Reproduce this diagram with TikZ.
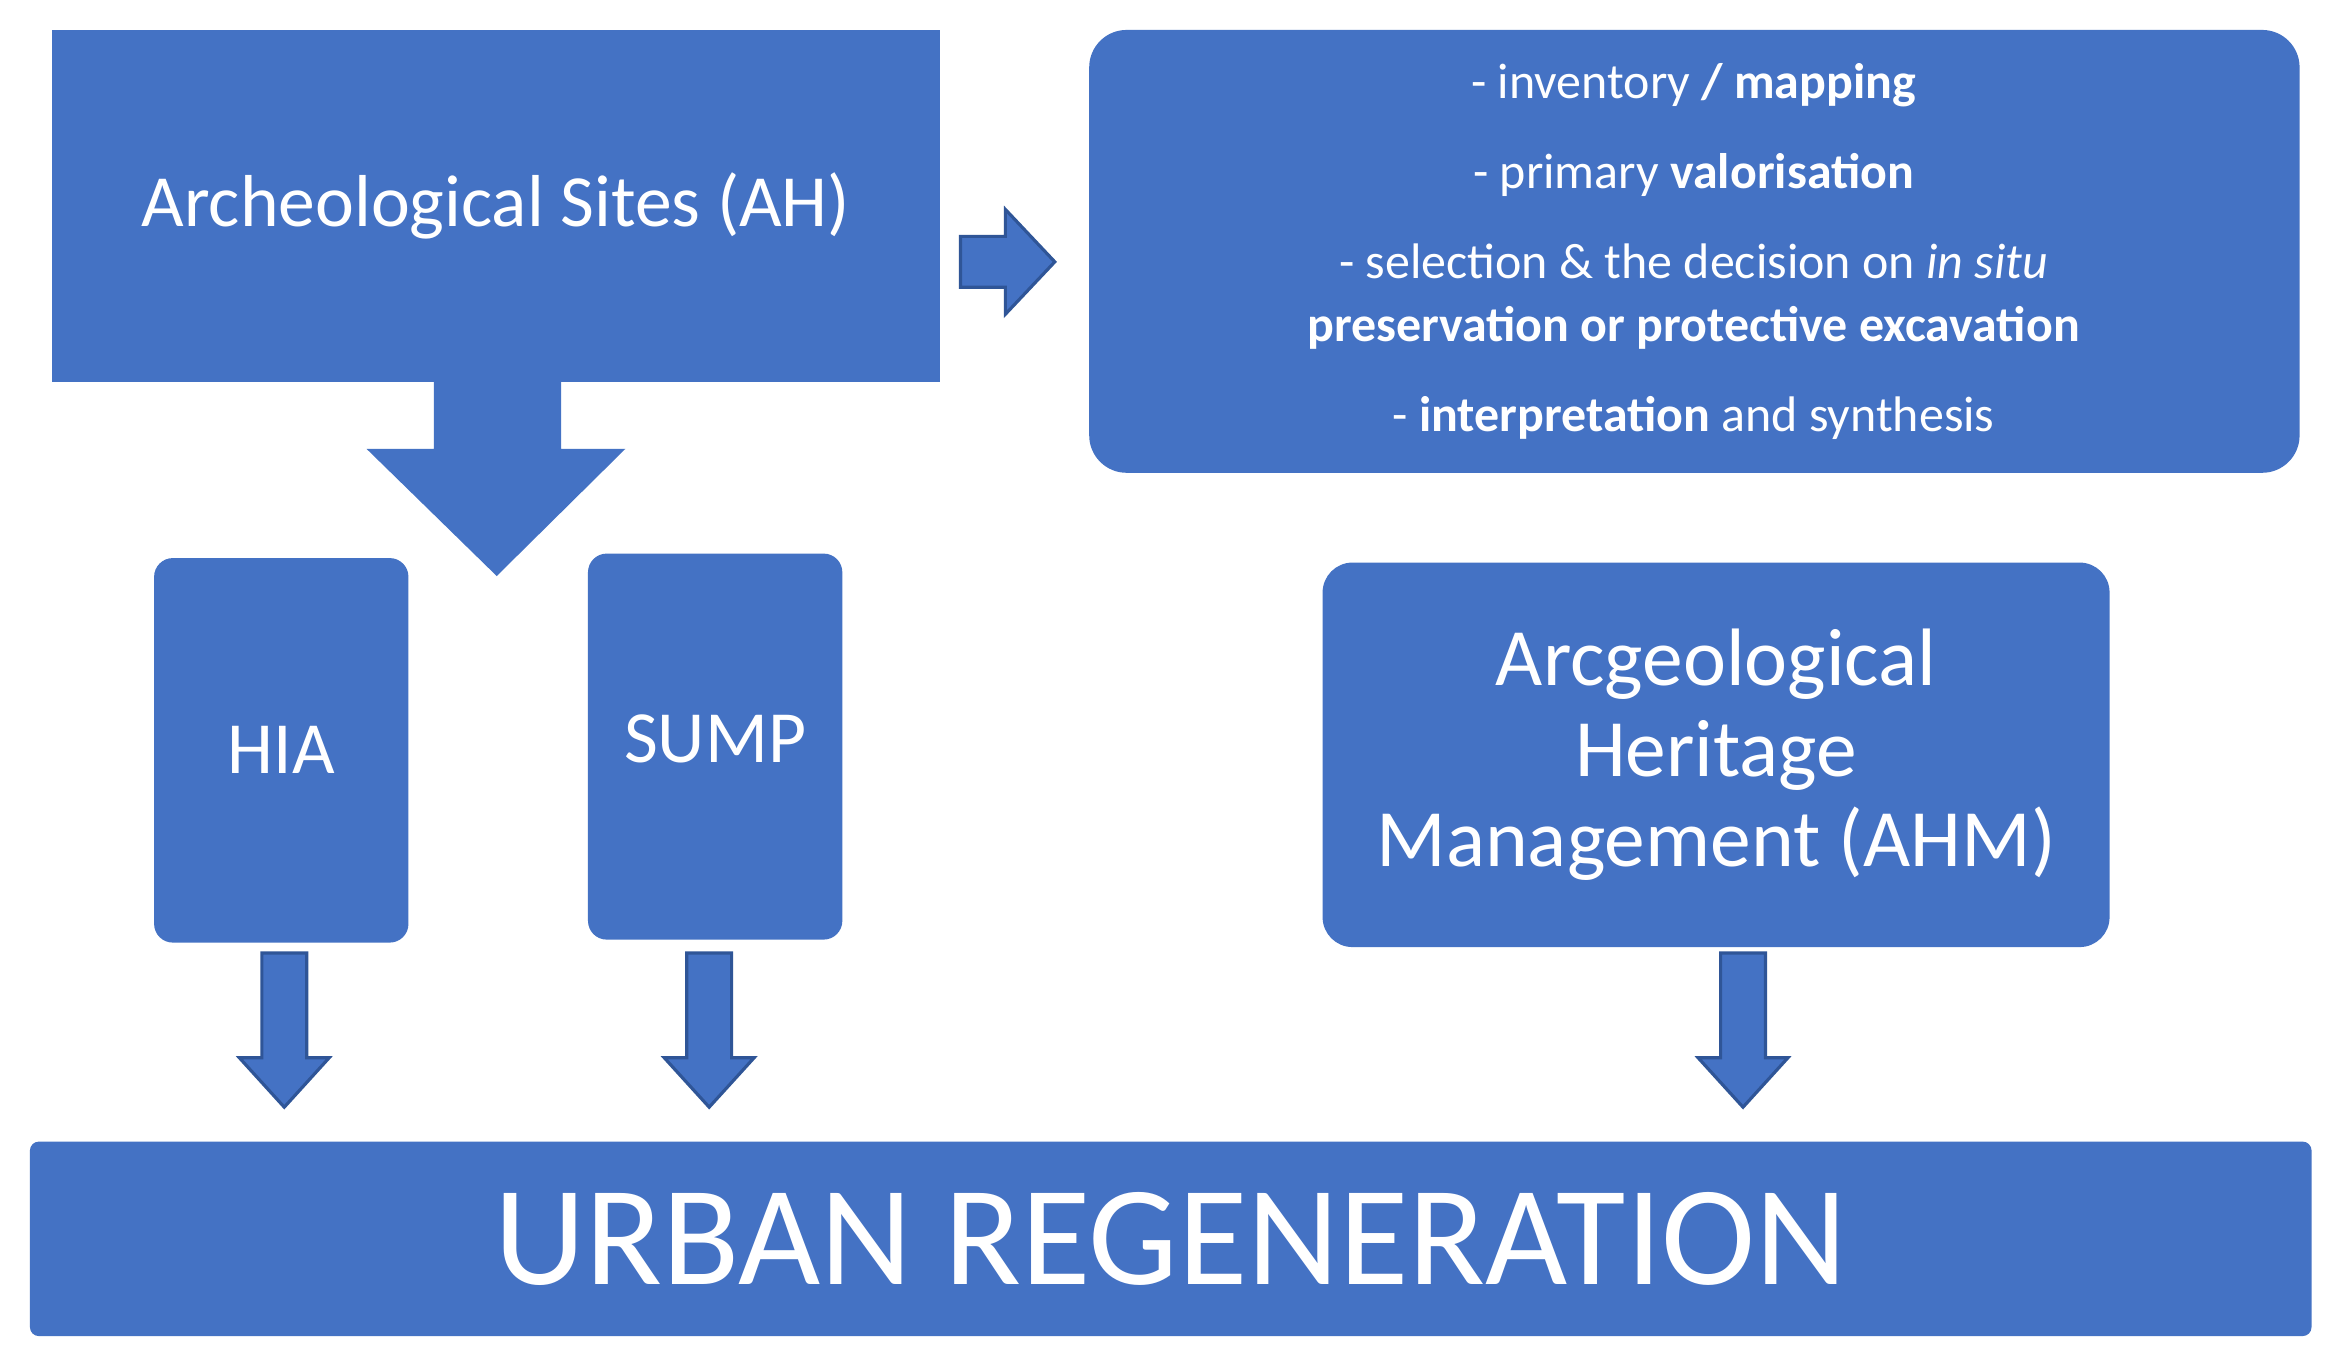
\documentclass[tikz,border=0pt]{standalone}
\usepackage{fontspec}
\setmainfont{Carlito}
\definecolor{bx}{HTML}{4472C4}
\definecolor{ol}{HTML}{2F5597}
\begin{document}
\begin{tikzpicture}[x=0.02cm,y=-0.02cm,
  box/.style={fill=bx,text=white,inner sep=0pt,align=center},
  arr/.style={fill=bx,draw=ol,line width=1.2pt,line join=miter}]
\useasboundingbox (0,0) rectangle (1560,904);
\fill[white] (0,0) rectangle (1560,904);
\node[box,minimum width=593*0.02cm,minimum height=235*0.02cm,font=\fontsize{28}{32}\selectfont] (ah) at (331.5,137.5) {Archeological Sites (AH)};
\node[box,rounded corners=0.5cm,minimum width=809*0.02cm,minimum height=296*0.02cm] (rb) at (1132.5,168) {};
\node[text=white,align=center,font=\fontsize{19}{24}\selectfont] (rt) at (1132,168) {- inventory \textbf{/ mapping}\\[0.36cm]
- primary \textbf{valorisation}\\[0.36cm]
- selection \& the decision on \textit{in situ}\\
\textbf{preservation or protective excavation}\\[0.36cm]
- \textbf{interpretation} and synthesis};
\node[box,rounded corners=0.25cm,minimum width=170*0.02cm,minimum height=257*0.02cm,font=\fontsize{28}{32}\selectfont] (hia) at (188,501.5) {HIA};
\node[box,rounded corners=0.25cm,minimum width=170*0.02cm,minimum height=258*0.02cm,font=\fontsize{28}{32}\selectfont] (sump) at (478,499) {\raisebox{0.2cm}{SUMP}};
\node[box,rounded corners=0.4cm,minimum width=526*0.02cm,minimum height=257*0.02cm,font=\fontsize{31}{35}\selectfont] (ahm) at (1147,504.5) {Arcgeological\\[-0.02cm] Heritage\\[-0.02cm] Management (AHM)};
\node[box,rounded corners=0.12cm,minimum width=1525*0.02cm,minimum height=130*0.02cm,font=\fontsize{54}{60}\selectfont] (ur) at (782.5,828) {URBAN REGENERATION};
% big down arrow
\fill[bx] (290,254) -- (375,254) -- (375,300) -- (418,300) -- (332,385) -- (245,300) -- (290,300) -- cycle;
% right arrow
\draw[arr] (642,158) -- (672,158) -- (672,140) -- (705,175) -- (672,210) -- (672,192) -- (642,192) -- cycle;
% down arrows
\foreach \c/\t/\b in {190/637/740, 474/637/740, 1165/637/740}{
  \draw[arr] (\c-15,\t) -- (\c+15,\t) -- (\c+15,\b-33) -- (\c+30,\b-33) -- (\c,\b) -- (\c-30,\b-33) -- (\c-15,\b-33) -- cycle;
}
\end{tikzpicture}
\end{document}
